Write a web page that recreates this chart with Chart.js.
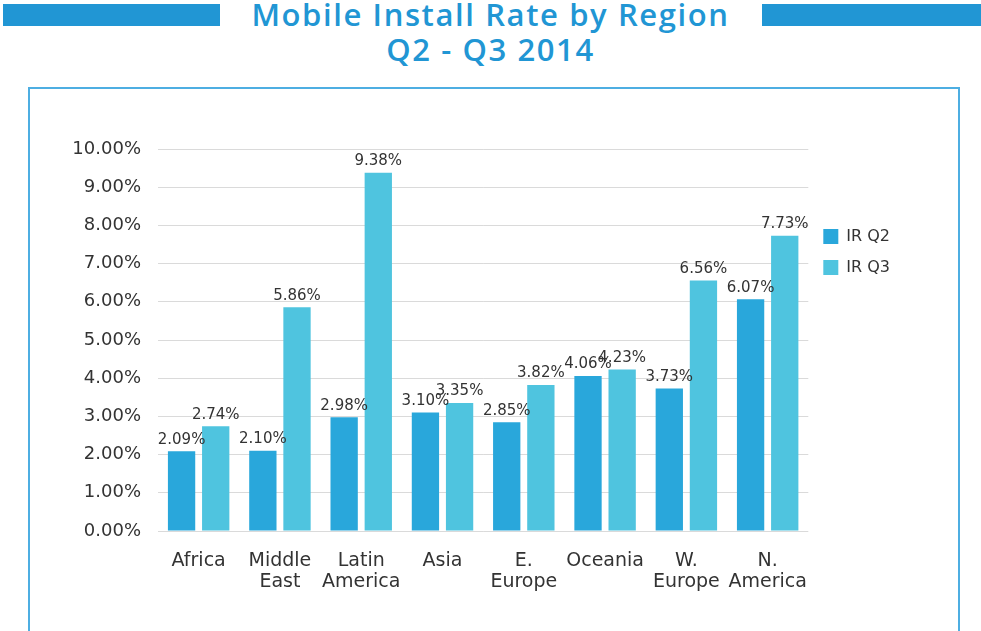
<!DOCTYPE html>
<html>
<head>
<meta charset="utf-8">
<script src="https://cdn.jsdelivr.net/npm/chart.js@4"></script>
<style>
  body { margin: 0; background: #fff; width: 981px; height: 631px; overflow: hidden; position: relative; font-family: "DejaVu Sans", sans-serif; }
  .bar { position: absolute; top: 4px; height: 22px; background: #2196d4; }
  .title { position: absolute; left: 0; width: 981px; text-align: center; color: #2196d4; font-family: "Open Sans", sans-serif; font-weight: 600; font-size: 31px; letter-spacing: 1.6px; line-height: 34px; }
  #box { position: absolute; left: 28px; top: 87px; width: 932px; height: 560px; border: 2px solid #4daee2; box-sizing: border-box; }
  #wrap { position: absolute; left: 30px; top: 89px; width: 930px; height: 542px; }
</style>
</head>
<body>
<div class="bar" style="left:3px;width:217px"></div>
<div class="bar" style="left:762px;width:219px"></div>
<div class="title" style="top:-3px">Mobile Install Rate by Region</div>
<div class="title" style="top:32px">Q2 - Q3 2014</div>
<div id="box"></div>
<div id="wrap"><canvas id="chart_install_rate"></canvas></div>
<script>
var regions = ['Africa', ['Middle', 'East'], ['Latin', 'America'], 'Asia', ['E.', 'Europe'], 'Oceania', ['W.', 'Europe'], ['N.', 'America']];
var ir_q2 = [2.09, 2.10, 2.98, 3.10, 2.85, 4.06, 3.73, 6.07];
var ir_q3 = [2.74, 5.86, 9.38, 3.35, 3.82, 4.23, 6.56, 7.73];
var y_ticks = [0, 1, 2, 3, 4, 5, 6, 7, 8, 9, 10];

var fontName = '"DejaVu Sans", sans-serif';

// labels above each bar
var barLabels = {
    id: 'barLabels',
    afterDatasetsDraw: function (chart) {
        var c = chart.ctx;
        c.save();
        c.font = '15px ' + fontName;
        c.fillStyle = '#333333';
        c.textAlign = 'center';
        c.textBaseline = 'bottom';
        chart.data.datasets.forEach(function (ds, i) {
            chart.getDatasetMeta(i).data.forEach(function (bar, j) {
                c.fillText(ds.data[j].toFixed(2) + '%', bar.x, bar.y - 4);
            });
        });
        c.restore();
    }
};

var ctx = document.getElementById('chart_install_rate');
var myChart = new Chart(ctx, {
    type: 'bar',
    data: {
        labels: regions,
        datasets: [
            { label: 'IR Q2', data: ir_q2, backgroundColor: '#29a7db', borderWidth: 0 },
            { label: 'IR Q3', data: ir_q3, backgroundColor: '#4fc4df', borderWidth: 0 }
        ]
    },
    options: {
        responsive: true,
        maintainAspectRatio: false,
        animation: false,
        categoryPercentage: 0.84,
        barPercentage: 0.8,
        layout: { padding: { top: 60, left: 0, right: 60, bottom: 26 } },
        plugins: {
            tooltip: { enabled: false },
            legend: {
                position: 'right',
                align: 'start',
                title: { display: true, text: '', padding: { top: 50, bottom: 0 } },
                labels: {
                    boxWidth: 15,
                    boxHeight: 15,
                    padding: 15,
                    color: '#333333',
                    font: { family: fontName, size: 16 }
                }
            }
        },
        scales: {
            x: {
                grid: { display: false },
                border: { display: false },
                ticks: {
                    color: '#333333',
                    padding: 12,
                    maxRotation: 0,
                    minRotation: 0,
                    autoSkip: false,
                    font: { family: fontName, size: 19, lineHeight: 1.105 }
                }
            },
            y: {
                min: 0,
                max: 10,
                afterBuildTicks: function (axis) {
                    axis.ticks = y_ticks.map(function (v) { return { value: v }; });
                },
                afterFit: function (axis) { axis.width = 128; },
                grid: { color: '#dadada', lineWidth: 1, drawTicks: false },
                border: { display: false },
                ticks: {
                    color: '#333333',
                    padding: 17,
                    font: { family: fontName, size: 18 },
                    callback: function (v) { return v.toFixed(2) + '%'; }
                }
            }
        }
    },
    plugins: [barLabels]
});
</script>
</body>
</html>
